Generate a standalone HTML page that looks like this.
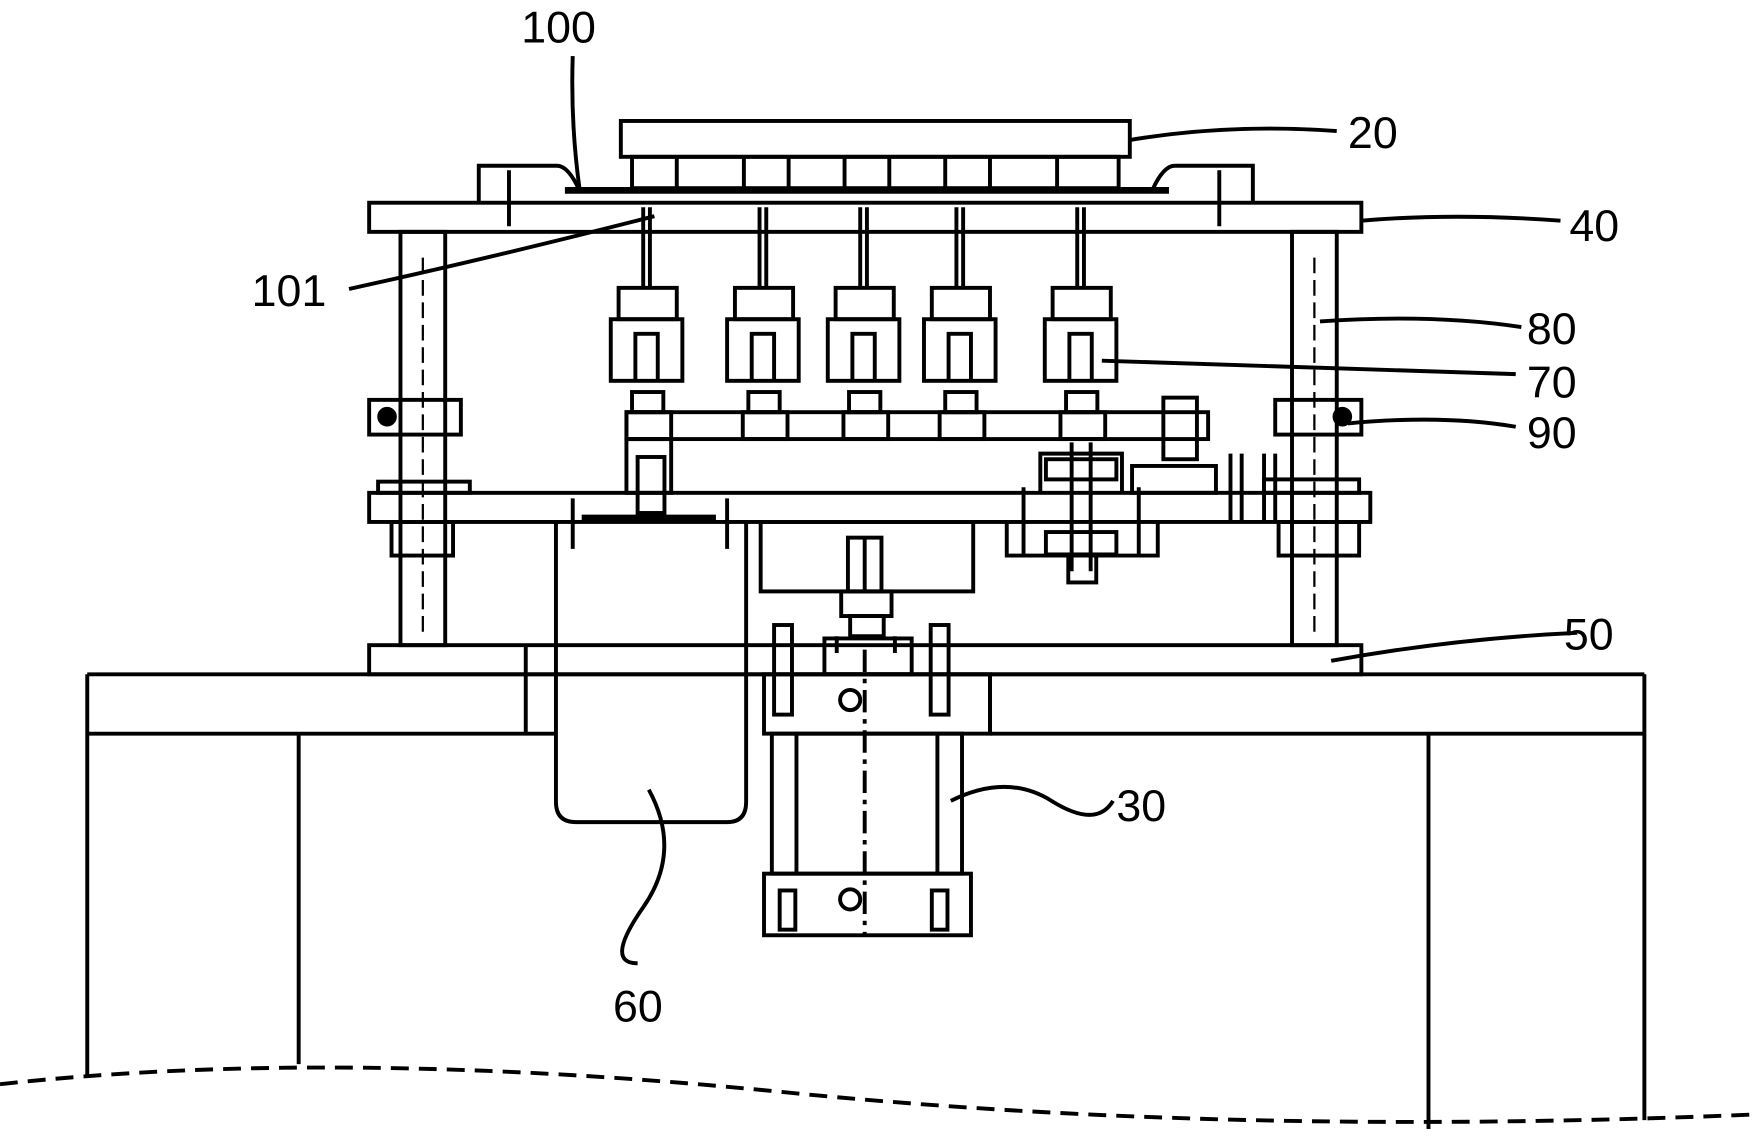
<!DOCTYPE html>
<html><head><meta charset="utf-8"><style>
html,body{margin:0;padding:0;background:#fff}
svg{display:block}
text{font-family:"Liberation Sans",sans-serif;font-size:40px;fill:#000}
</style></head><body>
<svg width="1754" height="1138" viewBox="0 0 1568 1016" preserveAspectRatio="none" xmlns="http://www.w3.org/2000/svg">
<g fill="none" stroke="#000" stroke-width="3.5">
<line x1="78" y1="602" x2="1470" y2="602"/>
<line x1="78" y1="655" x2="497" y2="655"/>
<line x1="885" y1="655" x2="1470" y2="655"/>
<line x1="78" y1="602" x2="78" y2="960"/>
<line x1="1470" y1="602" x2="1470" y2="1000"/>
<line x1="267" y1="655" x2="267" y2="950"/>
<line x1="1277" y1="655" x2="1277" y2="1008"/>
<line x1="470" y1="576" x2="470" y2="655"/>
<line x1="885" y1="602" x2="885" y2="655"/>
<path d="M0 968 Q300 935 700 975 T1568 995" stroke-dasharray="16 9"/>
<rect x="330" y="576" width="887" height="26"/>
<rect x="330" y="181" width="887" height="26"/>
<rect x="555" y="108" width="455" height="32"/>
<rect x="565" y="140" width="435" height="28"/>
<path d="M605 140v28M665 140v28M705 140v28M755 140v28M795 140v28M845 140v28M885 140v28M945 140v28"/>
<line x1="505" y1="170" x2="1045" y2="170" stroke-width="6"/>
<path d="M428 181V148h70q10 0 20 22"/>
<path d="M1120 181V148h-70q-10 0-20 22"/>
<path d="M455 152v50M1090 152v50"/>
<rect x="358" y="207" width="40" height="369"/>
<rect x="1155" y="207" width="40" height="369"/>
<path d="M378 230v340M1175 230v340" stroke-dasharray="14 6" stroke-width="2"/>
<rect x="330" y="357" width="82" height="31"/>
<rect x="1140" y="357" width="77" height="31"/>
<circle cx="346" cy="372" r="7" fill="#000"/>
<circle cx="1200" cy="372" r="7" fill="#000"/>
<rect x="330" y="440" width="895" height="26"/>
<rect x="338" y="430" width="82" height="10"/>
<rect x="1130" y="428" width="85" height="12"/>
<rect x="350" y="466" width="55" height="30"/>
<rect x="1143" y="466" width="72" height="30"/>
<g id="c">
<path d="M575 185v72M581 185v72"/>
<rect x="553" y="257" width="52" height="28"/>
<rect x="546" y="285" width="64" height="55"/>
<path d="M568 340v-42h20v42"/>
<rect x="565" y="350" width="28" height="18"/>
<rect x="560" y="368" width="40" height="24"/>
</g>
<use href="#c" x="104"/>
<use href="#c" x="194"/>
<use href="#c" x="280"/>
<use href="#c" x="388"/>
<rect x="560" y="368" width="520" height="24"/>
<rect x="560" y="392" width="40" height="48"/>
<rect x="570" y="408" width="24" height="50"/>
<path d="M930 440v-35h73v35"/>
<rect x="935" y="410" width="63" height="18"/>
<path d="M900 466v30h135v-30"/>
<rect x="935" y="475" width="63" height="20"/>
<path d="M958 395v115M975 395v115"/>
<rect x="955" y="495" width="25" height="25"/>
<rect x="1012" y="416" width="75" height="24"/>
<rect x="1040" y="355" width="30" height="55"/>
<path d="M1100 405v60M1110 405v60M1130 405v60M1140 405v60"/>
<path d="M512 445v45M650 445v45M915 435v60M1018 435v60"/>
<path d="M497 466v250q0 18 18 18h135q17 0 17-18V466"/>
<line x1="520" y1="462" x2="640" y2="462" stroke-width="5"/>
<rect x="680" y="466" width="190" height="62"/>
<rect x="758" y="480" width="30" height="48"/>
<path d="M773 480v48"/>
<rect x="752" y="528" width="45" height="22"/>
<rect x="760" y="550" width="30" height="18"/>
<path d="M748 568v15M800 568v15"/>
<rect x="737" y="570" width="78" height="32"/>
<rect x="683" y="602" width="202" height="53"/>
<rect x="690" y="655" width="170" height="125"/>
<path d="M712 655v125M838 655v125"/>
<rect x="683" y="780" width="185" height="55"/>
<path d="M773 580v255" stroke-dasharray="20 6 4 6"/>
<circle cx="760" cy="625" r="9"/>
<circle cx="760" cy="803" r="9"/>
<rect x="692" y="558" width="16" height="80"/>
<rect x="832" y="558" width="16" height="80"/>
<rect x="697" y="795" width="14" height="35"/>
<rect x="833" y="795" width="14" height="35"/>
<path d="M1010 125 Q1100 110 1195 117"/>
<path d="M518 168 Q510 110 512 50"/>
<path d="M1217 197 Q1300 190 1395 197"/>
<path d="M312 258 Q440 230 585 193"/>
<path d="M1180 287 Q1280 280 1360 292"/>
<path d="M985 322 L1355 334"/>
<path d="M1205 378 Q1290 370 1355 381"/>
<path d="M1190 590 Q1300 570 1410 565"/>
<path d="M850 715 Q900 690 940 715 T995 715"/>
<path d="M580 705 Q610 760 575 810 T570 860"/>
</g>
<text x="466" y="38">100</text>
<text x="1205" y="132">20</text>
<text x="1403" y="215">40</text>
<text x="225" y="273">101</text>
<text x="1365" y="307">80</text>
<text x="1365" y="355">70</text>
<text x="1365" y="400">90</text>
<text x="1398" y="580">50</text>
<text x="998" y="733">30</text>
<text x="548" y="912">60</text>
</svg>
</body></html>
